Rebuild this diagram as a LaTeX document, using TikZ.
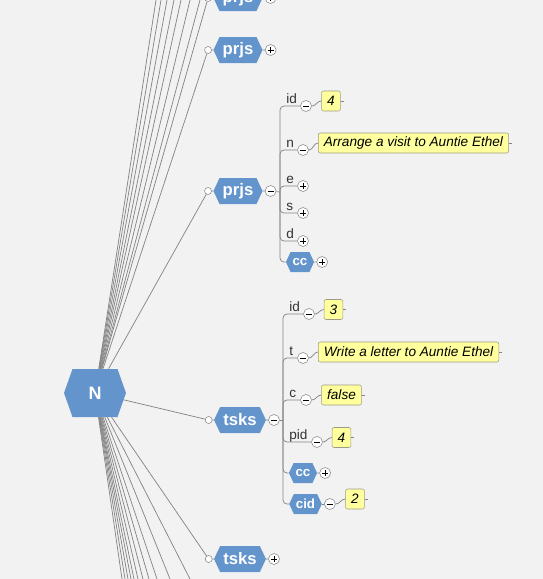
\documentclass[tikz,border=0pt]{standalone}
\usepackage{fontspec}
\setmainfont{Liberation Sans}
\setsansfont{Liberation Sans}
\usetikzlibrary{positioning, shapes.symbols}
\definecolor{hexblue}{HTML}{6394CC}
\definecolor{linkgray}{HTML}{858585}
\definecolor{valfill}{HTML}{FFFF9E}
\definecolor{valline}{HTML}{9C9C86}
\definecolor{canvas}{HTML}{F2F2F2}

\begin{document}
\begin{tikzpicture}[
    x=0.75pt, y=-0.75pt,
    font=\sffamily,
    link/.style={draw=linkgray, line width=0.55pt},
    bracket/.style={link, rounded corners=3pt},
    hexbox/.style={
        signal,
        signal to=east and west,
        signal pointer angle=130,
        fill=hexblue,
        text=white,
        font=\sffamily\bfseries\fontsize{12.5}{14}\selectfont,
        inner xsep=2.4pt,
        inner ysep=0pt,
        minimum height=19.5pt
    },
    subhex/.style={hexbox, font=\sffamily\bfseries\fontsize{10}{12}\selectfont,
        inner xsep=1.5pt, minimum height=15pt},
    roothex/.style={hexbox, signal pointer angle=141,
        font=\sffamily\bfseries\fontsize{13.5}{16}\selectfont,
        inner xsep=12pt, minimum height=36pt},
    joint/.style={circle, draw=linkgray, fill=white, minimum size=5.25pt, inner sep=0pt},
    btn/.style={circle, draw=linkgray, fill=white, minimum size=8.25pt, inner sep=0pt},
    minusbtn/.style={btn, path picture={
        \draw[black, line width=0.6pt]
            ([xshift=-2.3pt]path picture bounding box.center) --
            ([xshift=2.3pt]path picture bounding box.center);}},
    plusbtn/.style={btn, path picture={
        \draw[black, line width=0.6pt]
            ([xshift=-2.3pt]path picture bounding box.center) --
            ([xshift=2.3pt]path picture bounding box.center)
            ([yshift=-2.3pt]path picture bounding box.center) --
            ([yshift=2.3pt]path picture bounding box.center);}},
    valbox/.style={
        draw=valline,
        fill=valfill,
        rounded corners=1.5pt,
        font=\sffamily\itshape\fontsize{10.2}{12}\selectfont,
        inner xsep=4.2pt,
        inner ysep=0pt,
        minimum height=15pt,
        minimum width=13.5pt
    },
    field/.style={font=\sffamily\fontsize{10.2}{12}\selectfont, text=black!80,
        inner sep=0pt, anchor=base west}
]

\useasboundingbox (0,0) rectangle (543,579);
\clip (0,0) rectangle (543,579);
\fill[canvas] (0,0) rectangle (543,579);

% root
\node[roothex] (N) at (95,393) {N};

% collapsed siblings above and below the visible part
\foreach \x [count=\i] in {156,161,167,174,181,190,200}
    \coordinate (top\i) at (\x,0);
\foreach \x [count=\i] in {122,125,128,131,134,138,143,149,157,170,190}
    \coordinate (bot\i) at (\x,579);
\foreach \i in {1,...,7}
    \draw[link] (N) -- (top\i);
\foreach \i in {1,...,11}
    \draw[link] (N) -- (bot\i);

% first level
\node[hexbox] (prjs1) at (238,-2) {prjs};
\node[hexbox] (prjs2) at (238,50) {prjs};
\node[hexbox] (prjs3) at (238,191) {prjs};
\node[hexbox] (tsks1) at (240,420) {tsks};
\node[hexbox] (tsks2) at (240,559) {tsks};

\foreach \n/\b in {prjs1/plusbtn, prjs2/plusbtn, prjs3/minusbtn, tsks1/minusbtn, tsks2/plusbtn} {
    \node[joint, left=1pt of \n] (\n-in) {};
    \node[\b, right=1.5pt of \n] (\n-tg) {};
    \draw[link] (N) -- (\n-in);
    \draw[link] (\n-in) -- (\n) (\n) -- (\n-tg);
}

% prjs, expanded
\coordinate (pj) at (280,192);
\node[field] (pid) at (286,103) {id};
\node[field] (pn) at (286,147) {n};
\node[field] (pe) at (286,183) {e};
\node[field] (ps) at (286,210) {s};
\node[field] (pd) at (286,238) {d};
\node[minusbtn] (pid-tg) at (306,106) {};
\node[minusbtn] (pn-tg) at (303,150) {};
\node[plusbtn] (pe-tg) at (303,186) {};
\node[plusbtn] (ps-tg) at (303,213) {};
\node[plusbtn] (pd-tg) at (303,241) {};
\node[subhex] (pcc) at (300,262) {cc};
\node[plusbtn, right=1.5pt of pcc] (pcc-tg) {};
\node[valbox] (pid-v) at (331,101) {4};
\node[valbox, anchor=west] (pn-v) at (318,143) {Arrange a visit to Auntie Ethel};

\draw[link] (prjs3-tg) -- (pj);
\foreach \t in {pid-tg, pn-tg, pe-tg, ps-tg, pd-tg, pcc}
    \draw[bracket] (pj) |- (\t);
\draw[link] (pcc) -- (pcc-tg);

% tsks, expanded
\coordinate (tj) at (283,420);
\node[field] (tid) at (289,311) {id};
\node[field] (tt) at (289,355) {t};
\node[field] (tc) at (289,397) {c};
\node[field] (tpid) at (289,439) {pid};
\node[minusbtn] (tid-tg) at (309,314) {};
\node[minusbtn] (tt-tg) at (303,358) {};
\node[minusbtn] (tc-tg) at (306,400) {};
\node[minusbtn] (tpid-tg) at (317,442) {};
\node[subhex] (tcc) at (303,473) {cc};
\node[plusbtn, right=1.5pt of tcc] (tcc-tg) {};
\node[subhex] (tcid) at (305.5,504) {cid};
\node[minusbtn, right=1.5pt of tcid] (tcid-tg) {};
\node[valbox] (tid-v) at (333.5,309.5) {3};
\node[valbox, anchor=west] (tt-v) at (318,352) {Write a letter to Auntie Ethel};
\node[valbox] (tc-v) at (341.5,395) {false};
\node[valbox] (tpid-v) at (341.5,437.5) {4};
\node[valbox] (tcid-v) at (355,499) {2};

\draw[link] (tsks1-tg) -- (tj);
\foreach \t in {tid-tg, tt-tg, tc-tg, tpid-tg, tcc, tcid}
    \draw[bracket] (tj) |- (\t);
\draw[link] (tcc) -- (tcc-tg);
\draw[link] (tcid) -- (tcid-tg);

% values
\foreach \v in {pid, pn, tid, tt, tc, tpid, tcid} {
    \draw[link] (\v-tg) to[out=0, in=180] (\v-v.west);
    \draw[link] (\v-v.east) -- ++(3,0);
}

\end{tikzpicture}
\end{document}
